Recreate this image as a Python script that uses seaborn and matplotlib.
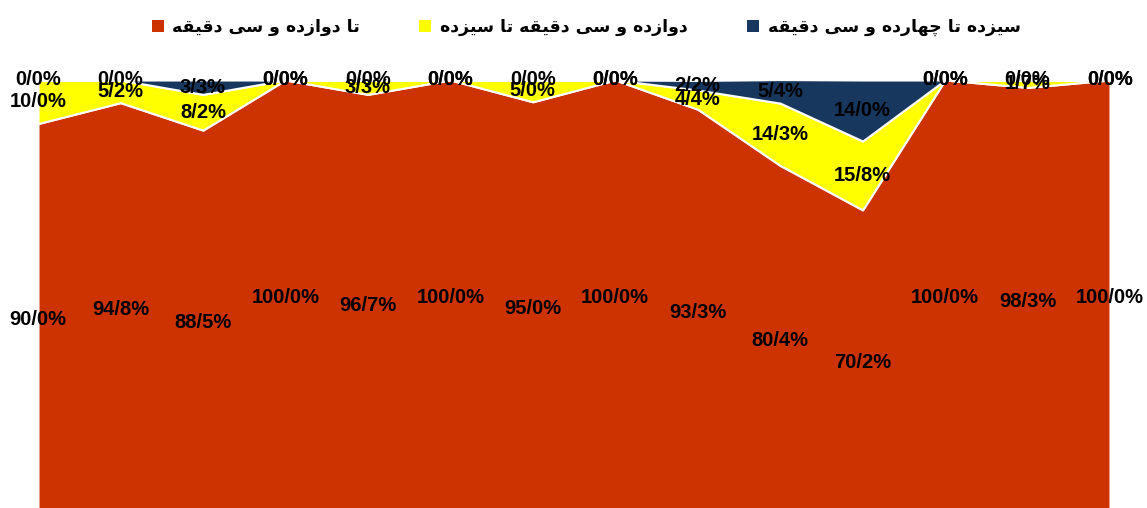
import matplotlib
matplotlib.use("Agg")
import matplotlib.pyplot as plt
import seaborn as sns
import numpy as np
from matplotlib.patches import Patch

# data (percent share per period)
periods = list(range(14))
series_names = ["تا دوازده و سی دقیقه", "دوازده و سی دقیقه تا سیزده", "سیزده تا چهارده و سی دقیقه"]
until_1230 = [90.0, 94.8, 88.5, 100.0, 96.7, 100.0, 95.0, 100.0, 93.3, 80.4, 70.2, 100.0, 98.3, 100.0]
from_1230_to_13 = [10.0, 5.2, 8.2, 0.0, 3.3, 0.0, 5.0, 0.0, 4.4, 14.3, 15.8, 0.0, 1.7, 0.0]
from_13_to_1430 = [0.0, 0.0, 3.3, 0.0, 0.0, 0.0, 0.0, 0.0, 2.2, 5.4, 14.0, 0.0, 0.0, 0.0]
colors = ["#CC3300", "#FFFF00", "#17375E"]

# small persian shaper: matplotlib 3.10 does no contextual shaping / RTL
FORMS = {
    "\u062A": ("\uFE95", "\uFE96", "\uFE97", "\uFE98", True),
    "\u0633": ("\uFEB1", "\uFEB2", "\uFEB3", "\uFEB4", True),
    "\u06CC": ("\uFBFC", "\uFBFD", "\uFBFE", "\uFBFF", True),
    "\u0642": ("\uFED5", "\uFED6", "\uFED7", "\uFED8", True),
    "\u0686": ("\uFB7A", "\uFB7B", "\uFB7C", "\uFB7D", True),
    "\u0647": ("\uFEE9", "\uFEEA", "\uFEEB", "\uFEEC", True),
    "\u0627": ("\uFE8D", "\uFE8E", None, None, False),
    "\u062F": ("\uFEA9", "\uFEAA", None, None, False),
    "\u0648": ("\uFEED", "\uFEEE", None, None, False),
    "\u0632": ("\uFEAF", "\uFEB0", None, None, False),
    "\u0631": ("\uFEAD", "\uFEAE", None, None, False),
}


def shape(text):
    out = []
    for i, ch in enumerate(text):
        if ch not in FORMS:
            out.append(ch)
            continue
        prev = text[i - 1] if i > 0 else None
        nxt = text[i + 1] if i + 1 < len(text) else None
        jp = prev in FORMS and FORMS[prev][4]
        jn = FORMS[ch][4] and nxt in FORMS
        iso, fin, ini, med, _ = FORMS[ch]
        if jp and jn:
            out.append(med)
        elif jp:
            out.append(fin)
        elif jn:
            out.append(ini)
        else:
            out.append(iso)
    return "".join(out)[::-1]


sns.set_theme(style="white")
plt.rcParams["font.family"] = ["DejaVu Sans"]

fig = plt.figure(figsize=(11.47, 5.08), dpi=100)
ax = fig.add_axes([38 / 1147, 0, 1072 / 1147, 428 / 508])

values = [until_1230, from_1230_to_13, from_13_to_1430]
ax.stackplot(periods, *values, colors=colors, edgecolor="white", linewidth=1.5)
ax.axvline(13, color="#D9D9D9", lw=1, zorder=0.5)
ax.set_xlim(0, 13)
ax.set_ylim(1.8, 100)
ax.axis("off")

# data labels at the middle of every band
base = np.zeros(len(periods))
for vals in values:
    vals = np.array(vals)
    for x, b, v in zip(periods, base, vals):
        ax.text(x, b + v / 2, f"{v:.1f}".replace(".", "/") + "%", ha="center", va="center",
                fontsize=14.5, fontweight="bold", family=["Liberation Sans", "DejaVu Sans"], color="black")
    base = base + vals

handles = [Patch(facecolor=c, edgecolor="none") for c in colors]
fig.legend(handles, [shape(s) for s in series_names], loc="center", bbox_to_anchor=(586 / 1147, 1 - 27 / 508),
           ncol=3, frameon=False, handlelength=0.7, handleheight=0.7, handletextpad=0.5, columnspacing=3.4,
           labelcolor="black", prop={"size": 12.5, "weight": "bold"})

fig.savefig("out.png", dpi=100)
